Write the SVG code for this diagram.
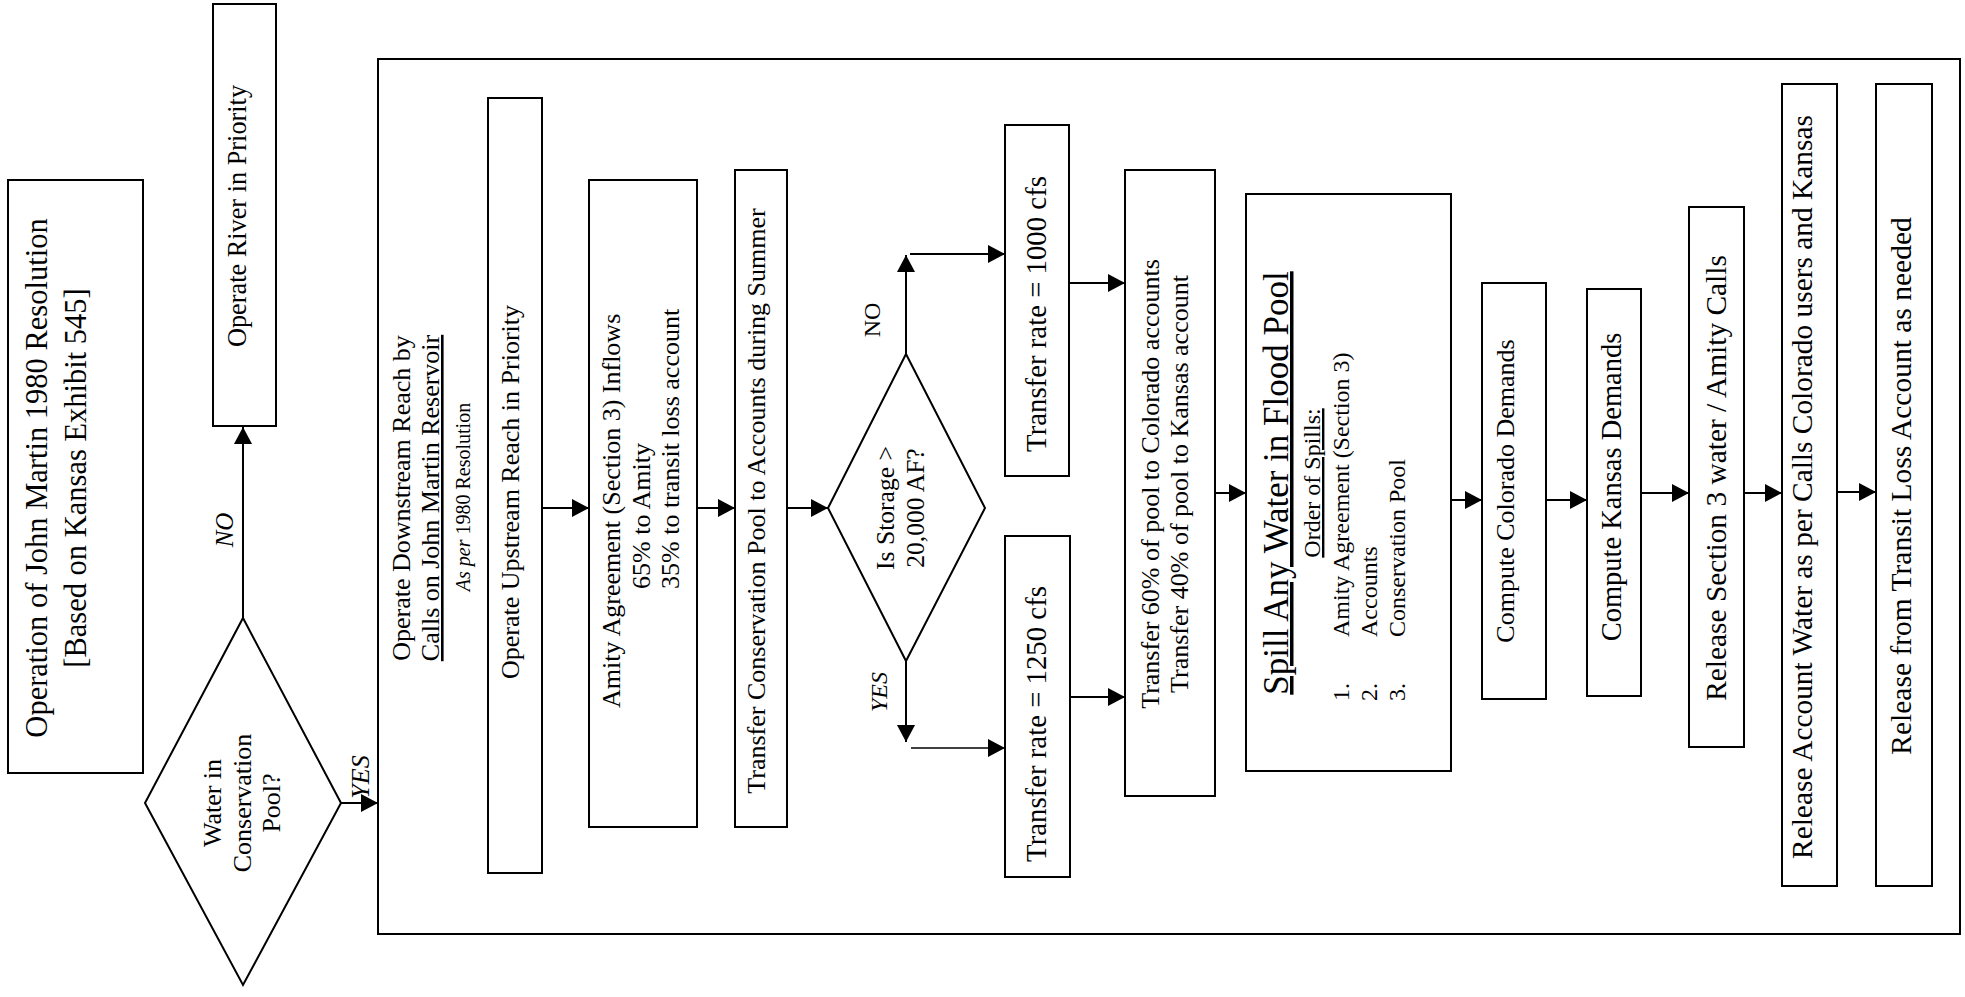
<svg xmlns="http://www.w3.org/2000/svg" width="1965" height="997" viewBox="0 0 1965 997">
<defs>
<style>
.box{fill:#fff;stroke:#000;stroke-width:2}
.frame{fill:none;stroke:#000;stroke-width:2}
.t{font-family:"Liberation Serif","Times New Roman",serif;fill:#000}
.c line{stroke:#000;stroke-width:2;fill:none}
.i{font-style:italic}
.u{text-decoration:underline}
</style>
<marker id="ah" markerUnits="userSpaceOnUse" markerWidth="18" markerHeight="18" refX="17" refY="9" orient="auto">
<path d="M0,0 L17,9 L0,18 z" fill="#000"/>
</marker>
</defs>
<rect width="1965" height="997" fill="#fff"/>
<g id="frame"><rect class="frame" x="378" y="59" width="1582" height="875"/></g>

<g id="title">
<rect class="box" x="8" y="180" width="135" height="593"/>
<text class="t" transform="translate(47,478) rotate(-90)" font-size="30.5" text-anchor="middle"><tspan x="0" y="0">Operation of John Martin 1980 Resolution</tspan><tspan x="0" y="39">[Based on Kansas Exhibit 545]</tspan></text>
</g>

<g id="river">
<rect class="box" x="213" y="4" width="63" height="422"/>
<text class="t" transform="translate(246,216) rotate(-90)" font-size="26.3" text-anchor="middle">Operate River in Priority</text>
</g>

<g id="decision1">
<polygon class="box" points="243,618 341,803 243,985 145,803"/>
<text class="t" transform="translate(221,803) rotate(-90)" font-size="26" text-anchor="middle"><tspan x="0" y="0">Water in</tspan><tspan x="0" y="29.5">Conservation</tspan><tspan x="0" y="59">Pool?</tspan></text>
</g>

<g id="downstream">
<text class="t" transform="translate(410,498) rotate(-90)" font-size="26" text-anchor="middle"><tspan x="0" y="0">Operate Downstream Reach by</tspan><tspan x="0" y="29" class="u">Calls on John Martin Reservoir</tspan></text>
<text class="t" transform="translate(470,497) rotate(-90)" font-size="20" text-anchor="middle"><tspan class="i">As per</tspan> 1980 Resolution</text>
</g>

<g id="upstream">
<rect class="box" x="488" y="98" width="54" height="775"/>
<text class="t" transform="translate(519,492) rotate(-90)" font-size="26" text-anchor="middle">Operate Upstream Reach in Priority</text>
</g>

<g id="amity">
<rect class="box" x="589" y="180" width="108" height="647"/>
<text class="t" transform="translate(620,708) rotate(-90)" font-size="26">Amity Agreement (Section 3) Inflows</text>
<text class="t" transform="translate(650,589) rotate(-90)" font-size="26">65% to Amity</text>
<text class="t" transform="translate(679,589) rotate(-90)" font-size="26">35% to transit loss account</text>
</g>

<g id="transferCons">
<rect class="box" x="735" y="170" width="52" height="657"/>
<text class="t" transform="translate(765,501) rotate(-90)" font-size="26" text-anchor="middle">Transfer Conservation Pool to Accounts during Summer</text>
</g>

<g id="decision2">
<polygon class="box" points="906,354 985,508 906,661 828,508"/>
<text class="t" transform="translate(894,508) rotate(-90)" font-size="25.6" text-anchor="middle"><tspan x="0" y="0">Is Storage &gt;</tspan><tspan x="0" y="30">20,000 AF?</tspan></text>
</g>

<g id="rate1000">
<rect class="box" x="1005" y="125" width="64" height="351"/>
<text class="t" transform="translate(1046,314) rotate(-90)" font-size="28.8" text-anchor="middle">Transfer rate = 1000 cfs</text>
</g>

<g id="rate1250">
<rect class="box" x="1005" y="536" width="65" height="341"/>
<text class="t" transform="translate(1046,724) rotate(-90)" font-size="28.8" text-anchor="middle">Transfer rate = 1250 cfs</text>
</g>

<g id="transfer60">
<rect class="box" x="1125" y="170" width="90" height="626"/>
<text class="t" transform="translate(1159,484) rotate(-90)" font-size="26" text-anchor="middle"><tspan x="0" y="0">Transfer 60% of pool to Colorado accounts</tspan><tspan x="0" y="29">Transfer 40% of pool to Kansas account</tspan></text>
</g>

<g id="spill">
<rect class="box" x="1246" y="194" width="205" height="577"/>
<text class="t u" transform="translate(1288,483) rotate(-90)" font-size="35" text-anchor="middle">Spill Any Water in Flood Pool</text>
<text class="t u" transform="translate(1320,483) rotate(-90)" font-size="24" text-anchor="middle">Order of Spills:</text>
<text class="t" transform="translate(1349,701) rotate(-90)" font-size="24">1.</text>
<text class="t" transform="translate(1377,701) rotate(-90)" font-size="24">2.</text>
<text class="t" transform="translate(1405,701) rotate(-90)" font-size="24">3.</text>
<text class="t" transform="translate(1349,637) rotate(-90)" font-size="24">Amity Agreement (Section 3)</text>
<text class="t" transform="translate(1377,637) rotate(-90)" font-size="24">Accounts</text>
<text class="t" transform="translate(1405,637) rotate(-90)" font-size="24">Conservation Pool</text>
</g>

<g id="colorado">
<rect class="box" x="1482" y="283" width="64" height="416"/>
<text class="t" transform="translate(1514,491) rotate(-90)" font-size="26" text-anchor="middle">Compute Colorado Demands</text>
</g>

<g id="kansas">
<rect class="box" x="1587" y="289" width="54" height="407"/>
<text class="t" transform="translate(1621,487) rotate(-90)" font-size="28.5" text-anchor="middle">Compute Kansas Demands</text>
</g>

<g id="release3">
<rect class="box" x="1689" y="207" width="55" height="540"/>
<text class="t" transform="translate(1726,478) rotate(-90)" font-size="29.4" text-anchor="middle">Release Section 3 water / Amity Calls</text>
</g>

<g id="releaseAccount">
<rect class="box" x="1782" y="84" width="55" height="802"/>
<text class="t" transform="translate(1812,487) rotate(-90)" font-size="29.4" text-anchor="middle">Release Account Water as per Calls Colorado users and Kansas</text>
</g>

<g id="releaseTransit">
<rect class="box" x="1876" y="84" width="56" height="802"/>
<text class="t" transform="translate(1911,486) rotate(-90)" font-size="29.5" text-anchor="middle">Release from Transit Loss Account as needed</text>
</g>

<g id="labels">
<text class="t i" transform="translate(233,530) rotate(-90)" font-size="25" text-anchor="middle">NO</text>
<text class="t i" transform="translate(369,777) rotate(-90)" font-size="26" text-anchor="middle">YES</text>
<text class="t" transform="translate(880,320) rotate(-90)" font-size="24" text-anchor="middle">NO</text>
<text class="t i" transform="translate(887,692) rotate(-90)" font-size="24" text-anchor="middle">YES</text>
</g>

<g id="connectors" class="c">
<line x1="243" y1="618" x2="243" y2="427" marker-end="url(#ah)"/>
<line x1="341" y1="803" x2="378" y2="803" marker-end="url(#ah)"/>
<line x1="542" y1="508" x2="589" y2="508" marker-end="url(#ah)"/>
<line x1="697" y1="508" x2="735" y2="508" marker-end="url(#ah)"/>
<line x1="787" y1="508" x2="828" y2="508" marker-end="url(#ah)"/>
<line x1="906" y1="354" x2="906" y2="255" marker-end="url(#ah)"/>
<line x1="910" y1="254" x2="1005" y2="254" marker-end="url(#ah)"/>
<line x1="906" y1="661" x2="906" y2="742" marker-end="url(#ah)"/>
<line x1="911" y1="748" x2="1005" y2="748" marker-end="url(#ah)" style="stroke-width:1.5"/>
<line x1="1069" y1="283" x2="1125" y2="283" marker-end="url(#ah)"/>
<line x1="1070" y1="697" x2="1125" y2="697" marker-end="url(#ah)"/>
<line x1="1215" y1="493" x2="1246" y2="493" marker-end="url(#ah)"/>
<line x1="1451" y1="500" x2="1482" y2="500" marker-end="url(#ah)"/>
<line x1="1546" y1="500" x2="1587" y2="500" marker-end="url(#ah)"/>
<line x1="1641" y1="493" x2="1689" y2="493" marker-end="url(#ah)"/>
<line x1="1744" y1="493" x2="1782" y2="493" marker-end="url(#ah)"/>
<line x1="1837" y1="492" x2="1876" y2="492" marker-end="url(#ah)"/>
</g>
</svg>
